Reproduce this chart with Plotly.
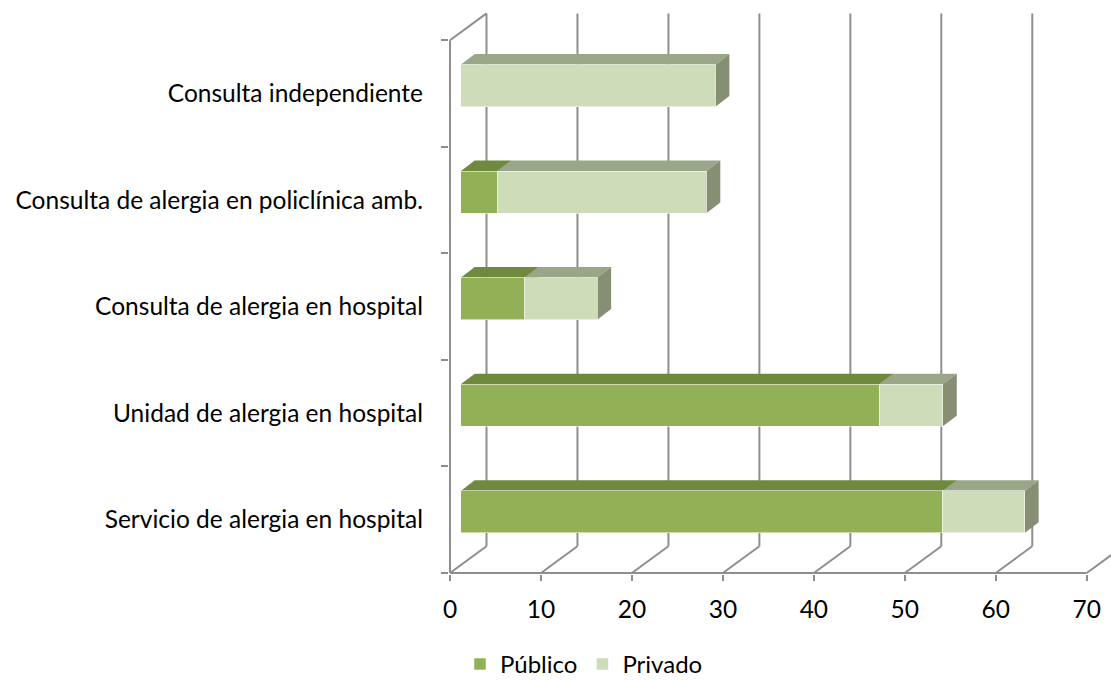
import plotly.graph_objects as go

# ---------------- data ----------------
categories = [
    "Servicio de alergia en hospital",
    "Unidad de alergia en hospital",
    "Consulta de alergia en hospital",
    "Consulta de alergia en policlínica amb.",
    "Consulta independiente",
]
publico = [53, 46, 7, 4, 0]
privado = [9, 7, 8, 23, 28]
x_ticks = [0, 10, 20, 30, 40, 50, 60, 70]
series_names = ["Público", "Privado"]

# ---------------- styling / geometry (pixels) ----------------
FIG_W, FIG_H = 1111, 680
X0_PX = 450.0          # pixel of value 0 on the front axis
Y0_PX = 572.7          # pixel of the front floor line
PXU_X = 9.096          # pixels per value unit
PXU_Y = 106.5          # pixels per category
PLOT_L, PLOT_R, PLOT_T, PLOT_B = 449.0, 1111.0, 12.0, 573.7

WALL_DX, WALL_DY = 36.5, 26.8      # depth of walls (px)
BAR_OFF_X, BAR_OFF_Y = 10.7, 7.8   # bar plane offset from the front (px)
BAR_H = 42.0                       # bar front face height (px)
BAR_DX, BAR_DY = 14.0, 10.7        # bar depth (px)

GRID = "#8E8E8E"
FRONT = ["#92B056", "#CFDCB9"]
TOP = ["#6F8A3E", "#9AA687"]
SIDE = ["#5F7734", "#868E74"]
FONT = "Lato"
FS = 24.5
LEG_FS = 24

def px2x(p):
    return (p - X0_PX) / PXU_X

def px2y(p):
    return -0.5 + (Y0_PX - p) / PXU_Y

x_range = [px2x(PLOT_L), px2x(PLOT_R)]
y_range = [px2y(PLOT_B), px2y(PLOT_T)]
ox, oy = BAR_OFF_X / PXU_X, BAR_OFF_Y / PXU_Y
x2_range = [x_range[0] - ox, x_range[1] - ox]
y2_range = [y_range[0] - oy, y_range[1] - oy]

wdx, wdy = WALL_DX / PXU_X, WALL_DY / PXU_Y
bdx, bdy = BAR_DX / PXU_X, BAR_DY / PXU_Y
bw = BAR_H / PXU_Y
n = len(categories)
ypos = list(range(n))

shapes = []
line = dict(color=GRID, width=2)
# back wall verticals
for v in x_ticks:
    shapes.append(dict(type="line", xref="x", yref="y", layer="below",
                       x0=v + wdx, x1=v + wdx, y0=-0.5 + wdy, y1=n - 0.5 + wdy, line=line))
# floor diagonals
for v in x_ticks:
    shapes.append(dict(type="line", xref="x", yref="y", layer="below",
                       x0=v, x1=v + wdx, y0=-0.5, y1=-0.5 + wdy, line=line))
# left wall: front edge + top diagonal
shapes.append(dict(type="line", xref="x", yref="y", layer="below",
                   x0=0, x1=0, y0=-0.5, y1=n - 0.5, line=line))
shapes.append(dict(type="line", xref="x", yref="y", layer="below",
                   x0=0, x1=wdx, y0=n - 0.5, y1=n - 0.5 + wdy, line=line))
# front floor edge
shapes.append(dict(type="line", xref="x", yref="y", layer="below",
                   x0=0, x1=x_ticks[-1], y0=-0.5, y1=-0.5, line=line))

# 3D faces of bars
series = [publico, privado]
for i in range(n):
    start = 0.0
    for k, vals in enumerate(series):
        v = vals[i]
        if v <= 0:
            continue
        s, e = start, start + v
        c = ypos[i]
        t, b = c + bw / 2, c - bw / 2
        top = f"M{s},{t} L{e},{t} L{e + bdx},{t + bdy} L{s + bdx},{t + bdy} Z"
        side = f"M{e},{b} L{e + bdx},{b + bdy} L{e + bdx},{t + bdy} L{e},{t} Z"
        shapes.append(dict(type="path", xref="x2", yref="y2", layer="below", path=top,
                           fillcolor=TOP[k], line=dict(width=0)))
        shapes.append(dict(type="path", xref="x2", yref="y2", layer="below", path=side,
                           fillcolor=SIDE[k], line=dict(width=0)))
        start = e

fig = go.Figure()
for k, vals in enumerate(series):
    fig.add_trace(go.Bar(
        y=ypos, x=vals, orientation="h", name=series_names[k],
        width=bw, xaxis="x2", yaxis="y2",
        marker=dict(color=FRONT[k], line=dict(color="rgba(255,255,255,0.55)", width=1)),
        hoverinfo="x+name",
    ))

plot_w = PLOT_R - PLOT_L
plot_h = PLOT_B - PLOT_T
fig.update_layout(
    width=FIG_W, height=FIG_H,
    margin=dict(l=PLOT_L, r=FIG_W - PLOT_R, t=PLOT_T, b=FIG_H - PLOT_B, pad=0,
                autoexpand=False),
    barmode="stack",
    paper_bgcolor="white", plot_bgcolor="white",
    font=dict(family=FONT, size=FS, color="black"),
    shapes=shapes,
    showlegend=True,
    legend=dict(orientation="h", traceorder="normal",
                x=(584 - PLOT_L) / plot_w, xanchor="center",
                y=(PLOT_B - 664) / plot_h, yanchor="middle",
                font=dict(family=FONT, size=LEG_FS, color="black")),
    xaxis=dict(range=x_range, tickmode="array", tickvals=x_ticks,
               ticktext=[str(v) for v in x_ticks], ticks="outside", ticklen=6,
               tickwidth=2, tickcolor=GRID, showgrid=False, zeroline=False,
               showline=False, ticklabelstandoff=8, fixedrange=True),
    yaxis=dict(range=y_range, tickmode="array", tickvals=ypos, ticktext=categories,
               ticks="", showgrid=False, zeroline=False, showline=False,
               ticklabelstandoff=25, fixedrange=True,
               minor=dict(tickmode="array", tickvals=[i - 0.5 for i in range(n + 1)],
                          ticks="outside", ticklen=7, tickwidth=2, tickcolor=GRID,
                          showgrid=False)),
    xaxis2=dict(range=x2_range, overlaying="x", visible=False, fixedrange=True),
    yaxis2=dict(range=y2_range, overlaying="y", visible=False, fixedrange=True),
)

fig.write_html("out.html", config={"displayModeBar": False},
               post_script="document.body.style.margin='0';")
